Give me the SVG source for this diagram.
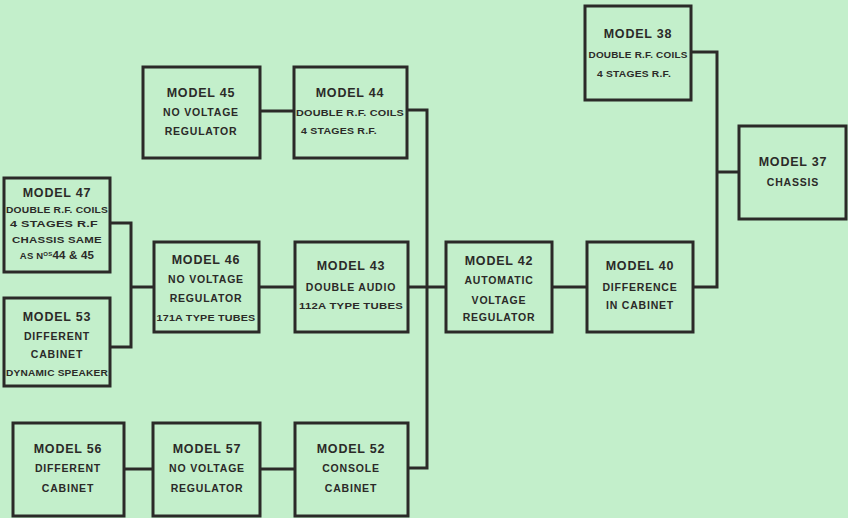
<svg xmlns="http://www.w3.org/2000/svg" width="848" height="518" viewBox="0 0 848 518">
<style>
.box{fill:none;stroke:#2b2a28;stroke-width:3}
.wire{fill:none;stroke:#2b2a28;stroke-width:3}
text{font-family:"Liberation Sans","DejaVu Sans",sans-serif;font-weight:bold;fill:#2b2a28;text-anchor:middle;letter-spacing:0.8px}
.t{font-size:12.5px}
.s{font-size:10.5px}
.xs{font-size:9.5px;letter-spacing:0.2px}
</style>
<rect x="0" y="0" width="848" height="518" fill="#c3efcb"/>
<g id="connectors">
<path class="wire" d="M260 111 H294"/>
<path class="wire" d="M407 110 H427 V468 H408"/>
<path class="wire" d="M408 287 H446"/>
<path class="wire" d="M259 287 H295"/>
<path class="wire" d="M110 223 H131 V347 H110"/>
<path class="wire" d="M131 287 H154"/>
<path class="wire" d="M552 287 H587"/>
<path class="wire" d="M693 287 H717 V52 H691"/>
<path class="wire" d="M717 172 H739"/>
<path class="wire" d="M124 469 H153"/>
<path class="wire" d="M260 469 H295"/>
</g>
<g id="model45"><rect class="box" x="143" y="67" width="117" height="91"/>
<text class="t" x="201" y="97">MODEL 45</text><text class="s" x="201" y="116">NO VOLTAGE</text><text class="s" x="201" y="135">REGULATOR</text></g>
<g id="model44"><rect class="box" x="294" y="67" width="113" height="91"/>
<text class="t" x="350" y="97">MODEL 44</text><text class="xs" x="350" y="116" textLength="108" lengthAdjust="spacingAndGlyphs">DOUBLE R.F. COILS</text><text class="xs" x="339" y="134" textLength="76" lengthAdjust="spacingAndGlyphs">4 STAGES R.F.</text></g>
<g id="model47"><rect class="box" x="4" y="178" width="106" height="94"/>
<text class="t" x="57" y="197">MODEL 47</text><text class="xs" x="57" y="213" textLength="102" lengthAdjust="spacingAndGlyphs">DOUBLE R.F. COILS</text><text class="xs" x="54" y="227" textLength="88" lengthAdjust="spacingAndGlyphs">4 STAGES R.F</text><text class="xs" x="57" y="243" textLength="90" lengthAdjust="spacingAndGlyphs">CHASSIS SAME</text><text class="xs" x="57" y="259">AS N<tspan font-size="6" dy="-3">OS</tspan><tspan dy="3" font-size="11.5">44 &amp; 45</tspan></text></g>
<g id="model53"><rect class="box" x="4" y="298" width="106" height="88"/>
<text class="t" x="57" y="321">MODEL 53</text><text class="s" x="57" y="340">DIFFERENT</text><text class="s" x="57" y="358">CABINET</text><text class="xs" x="57" y="376" textLength="102" lengthAdjust="spacingAndGlyphs">DYNAMIC SPEAKER</text></g>
<g id="model46"><rect class="box" x="154" y="242" width="105" height="90"/>
<text class="t" x="206" y="264">MODEL 46</text><text class="s" x="206" y="283">NO VOLTAGE</text><text class="s" x="206" y="302">REGULATOR</text><text class="xs" x="206" y="321" textLength="99" lengthAdjust="spacingAndGlyphs">171A TYPE TUBES</text></g>
<g id="model43"><rect class="box" x="295" y="242" width="113" height="90"/>
<text class="t" x="351" y="270">MODEL 43</text><text class="s" x="351" y="291">DOUBLE AUDIO</text><text class="xs" x="351" y="309" textLength="104" lengthAdjust="spacingAndGlyphs">112A TYPE TUBES</text></g>
<g id="model42"><rect class="box" x="446" y="242" width="106" height="90"/>
<text class="t" x="499" y="265">MODEL 42</text><text class="s" x="499" y="284">AUTOMATIC</text><text class="s" x="499" y="304">VOLTAGE</text><text class="s" x="499" y="321">REGULATOR</text></g>
<g id="model40"><rect class="box" x="587" y="242" width="106" height="90"/>
<text class="t" x="640" y="270">MODEL 40</text><text class="s" x="640" y="291">DIFFERENCE</text><text class="s" x="640" y="309">IN CABINET</text></g>
<g id="model38"><rect class="box" x="585" y="6" width="106" height="94"/>
<text class="t" x="638" y="38">MODEL 38</text><text class="xs" x="638" y="58" textLength="99" lengthAdjust="spacingAndGlyphs">DOUBLE R.F. COILS</text><text class="xs" x="634" y="77" textLength="74" lengthAdjust="spacingAndGlyphs">4 STAGES R.F.</text></g>
<g id="model37"><rect class="box" x="739" y="126" width="107" height="93"/>
<text class="t" x="793" y="166">MODEL 37</text><text class="s" x="793" y="186">CHASSIS</text></g>
<g id="model56"><rect class="box" x="13" y="423" width="111" height="93"/>
<text class="t" x="68" y="453">MODEL 56</text><text class="s" x="68" y="472">DIFFERENT</text><text class="s" x="68" y="492">CABINET</text></g>
<g id="model57"><rect class="box" x="153" y="423" width="107" height="93"/>
<text class="t" x="207" y="453">MODEL 57</text><text class="s" x="207" y="472">NO VOLTAGE</text><text class="s" x="207" y="492">REGULATOR</text></g>
<g id="model52"><rect class="box" x="295" y="423" width="113" height="93"/>
<text class="t" x="351" y="453">MODEL 52</text><text class="s" x="351" y="472">CONSOLE</text><text class="s" x="351" y="492">CABINET</text></g>
</svg>
